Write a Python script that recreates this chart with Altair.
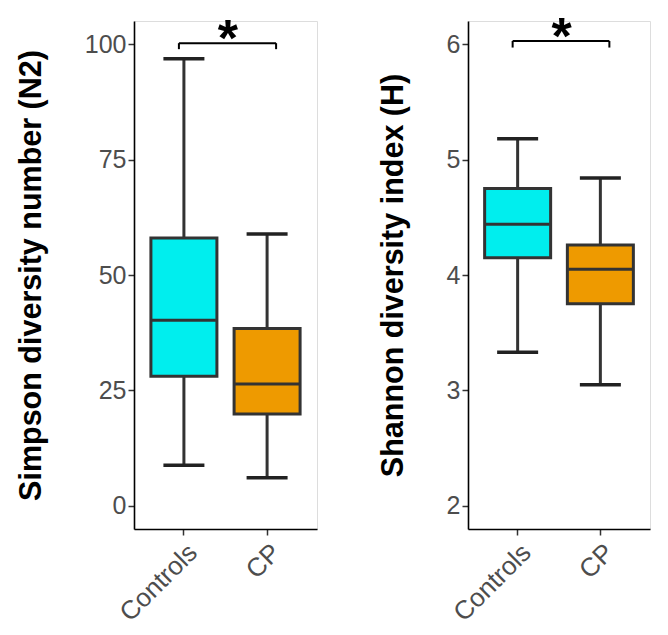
import altair as alt
import pandas as pd

groups = ["Controls", "CP"]
fill_colors = ["#00EEEE", "#EE9A00"]

simpson_min = [8.8, 6.1]
simpson_q1 = [28.1, 19.9]
simpson_median = [40.2, 26.4]
simpson_q3 = [58.0, 38.4]
simpson_max = [96.8, 58.9]

shannon_min = [3.33, 3.05]
shannon_q1 = [4.15, 3.75]
shannon_median = [4.44, 4.05]
shannon_q3 = [4.75, 4.26]
shannon_max = [5.18, 4.84]

simpson_ticks = [0, 25, 50, 75, 100]
shannon_ticks = [2, 3, 4, 5, 6]

simpson_bracket = [100.2, 98.9]   # bar height, tip height
shannon_bracket = [6.027, 5.97]
signif_label = "*"

FONT = "Liberation Sans"
LINE = "#333333"


def panel(mins, q1s, meds, q3s, maxs, bracket, title, domain, ticks, width, title_pad):
    df = pd.DataFrame({"group": groups, "lo": mins, "q1": q1s, "med": meds,
                       "q3": q3s, "hi": maxs})
    xenc = alt.X("group:N", title=None,
                 scale=alt.Scale(domain=groups, paddingInner=0, paddingOuter=0.1),
                 axis=alt.Axis(labelAngle=-45, labelAlign="right", labelBaseline="top",
                               labelFontSize=26, labelColor="#4D4D4D", labelFont=FONT,
                               labelPadding=4, tickSize=6, tickWidth=1.5, tickColor=LINE,
                               domainColor="black", domainWidth=1.6))
    yscale = alt.Scale(domain=domain, nice=False, zero=False)
    yaxis = alt.Axis(values=ticks, format="d", title=title, grid=False, labelFontSize=25,
                     labelColor="#4D4D4D", labelFont=FONT, labelPadding=2,
                     tickSize=6, tickWidth=1.5, tickColor=LINE,
                     domainColor="black", domainWidth=1.6,
                     titleFont=FONT, titleFontSize=30.5, titleFontWeight="bold",
                     titleColor="black", titlePadding=title_pad)
    base = alt.Chart(df).encode(x=xenc)
    whisk = base.mark_rule(color=LINE, strokeWidth=3).encode(
        y=alt.Y("lo:Q", scale=yscale, axis=yaxis), y2="hi:Q")
    box = base.mark_bar(size=66, stroke=LINE, strokeWidth=3).encode(
        y="q1:Q", y2="q3:Q",
        color=alt.Color("group:N", scale=alt.Scale(domain=groups, range=fill_colors),
                        legend=None))
    med = base.mark_tick(size=64, thickness=3, color=LINE, opacity=1).encode(y="med:Q")
    cap_lo = base.mark_tick(size=41, thickness=3.5, color="#222222", opacity=1).encode(y="lo:Q")
    cap_hi = base.mark_tick(size=41, thickness=3.5, color="#222222", opacity=1).encode(y="hi:Q")

    bdf = pd.DataFrame({"start": [groups[0]], "end": [groups[1]],
                        "top": [bracket[0]], "tip": [bracket[1]], "label": [signif_label]})
    bbase = alt.Chart(bdf)
    hbar = bbase.mark_rule(color="black", strokeWidth=2, xOffset=-5, x2Offset=9).encode(
        x="start:N", x2="end:N", y="top:Q")
    lend = bbase.mark_rule(color="black", strokeWidth=2, xOffset=-5).encode(
        x="start:N", y="top:Q", y2="tip:Q")
    rend = bbase.mark_rule(color="black", strokeWidth=2, xOffset=9).encode(
        x="end:N", y="top:Q", y2="tip:Q")
    star = bbase.mark_text(fontSize=52, fontWeight="bold", font=FONT, color="black",
                           dx=44, dy=13, baseline="alphabetic").encode(
        x="start:N", y="top:Q", text="label:N")
    return alt.layer(whisk, box, med, cap_lo, cap_hi, hbar, lend, rend, star).properties(
        width=width, height=508)


left = panel(simpson_min, simpson_q1, simpson_median, simpson_q3, simpson_max,
             simpson_bracket, "Simpson diversity number (N2)", [-5, 105], simpson_ticks,
             183, 38)
right = panel(shannon_min, shannon_q1, shannon_median, shannon_q3, shannon_max,
              shannon_bracket, "Shannon diversity index (H)", [1.8, 6.2], shannon_ticks,
              182, 38)

chart = alt.hconcat(left, right, spacing=59).resolve_scale(y="independent", color="shared").properties(
    padding={"left": 7, "top": 3, "right": 5, "bottom": 5}
).configure_view(stroke=None).configure(background="white")

chart.save("out.html", embed_options={"renderer": "svg", "actions": False})
